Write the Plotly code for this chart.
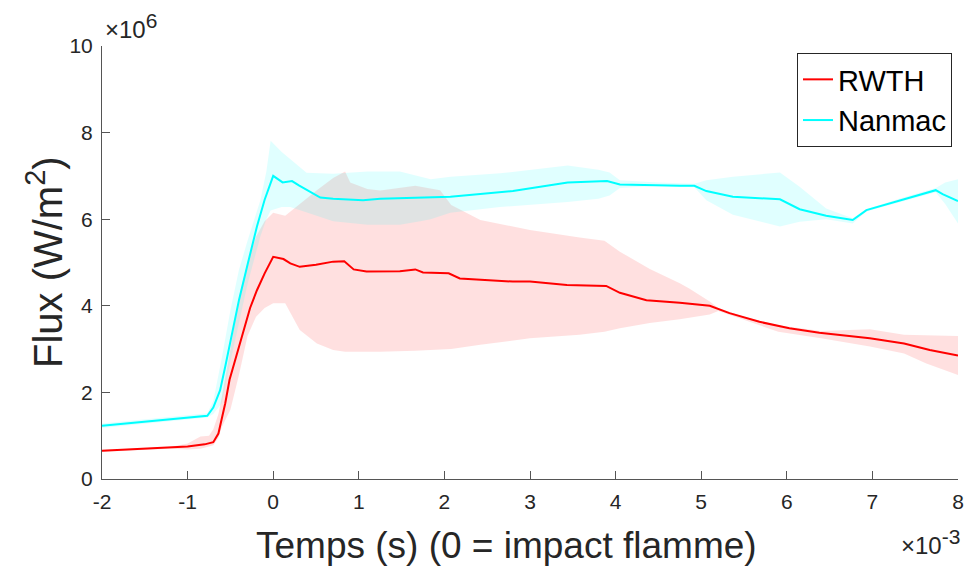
import plotly.graph_objects as go

# ---------------- data (time in 1e-3 s, flux in 1e6 W/m^2) ----------------
rwth_t = [-2.0, -1.0, -0.8, -0.7, -0.64, -0.56, -0.51, -0.41, -0.35, -0.27, -0.19, -0.1, 0.0,
          0.12, 0.2, 0.31, 0.5, 0.7, 0.83, 0.94, 1.09, 1.48, 1.66, 1.75, 2.05, 2.18, 2.8, 3.0,
          3.43, 3.89, 4.05, 4.36, 4.75, 5.1, 5.33, 5.68, 6.03, 6.38, 6.97, 7.37, 7.67, 8.0]
rwth_flux = [0.65, 0.75, 0.80, 0.85, 1.05, 1.75, 2.29, 2.98, 3.44, 3.95, 4.36, 4.75, 5.13,
             5.08, 4.98, 4.90, 4.95, 5.02, 5.03, 4.84, 4.79, 4.80, 4.84, 4.77, 4.75, 4.63, 4.56, 4.56,
             4.48, 4.46, 4.30, 4.13, 4.07, 4.00, 3.83, 3.63, 3.48, 3.38, 3.25, 3.13, 2.98, 2.85]

rwth_band_t = [-2.0, -1.2, -1.0, -0.85, -0.75, -0.7, -0.64, -0.6, -0.5, -0.4, -0.3, -0.2, -0.1,
               0.0, 0.14, 0.22, 0.31, 0.51, 0.7, 0.84, 0.9, 1.1, 1.25, 1.66, 1.95, 2.08, 2.42,
               3.0, 3.58, 3.87, 4.05, 4.4, 4.75, 4.86, 5.1, 5.2, 5.5, 5.9, 6.4, 6.97, 7.37, 7.63, 8.0]
rwth_upper = [0.67, 0.74, 0.82, 0.98, 1.00, 1.15, 1.50, 1.90, 3.00, 4.20, 5.00, 5.60, 5.95,
              6.15, 6.08, 6.21, 6.35, 6.67, 6.95, 7.10, 6.85, 6.70, 6.66, 6.77, 6.67, 6.33, 5.98,
              5.75, 5.58, 5.50, 5.25, 4.85, 4.52, 4.40, 4.10, 3.95, 3.75, 3.55, 3.42, 3.46, 3.33, 3.32, 3.30]
rwth_lower = [0.63, 0.70, 0.68, 0.70, 0.75, 0.78, 0.95, 1.20, 1.60, 2.40, 3.30, 3.75, 3.95,
              4.06, 4.06, 3.78, 3.44, 3.13, 2.98, 2.94, 2.94, 2.94, 2.94, 2.96, 2.98, 3.00, 3.10,
              3.25, 3.33, 3.40, 3.48, 3.60, 3.69, 3.72, 3.80, 3.88, 3.68, 3.40, 3.25, 3.06, 2.90, 2.67, 2.40]

nanmac_t = [-2.0, -1.0, -0.77, -0.7, -0.62, -0.56, -0.48, -0.4, -0.3, -0.19, -0.1, 0.0, 0.11,
            0.22, 0.3, 0.55, 0.7, 1.05, 1.25, 1.63, 2.07, 2.8, 3.44, 3.9, 4.05, 4.75, 4.92, 5.06,
            5.37, 5.92, 6.15, 6.46, 6.77, 6.93, 7.32, 7.74, 7.82, 8.0]
nanmac_flux = [1.23, 1.43, 1.46, 1.65, 2.05, 2.60, 3.37, 4.13, 4.95, 5.83, 6.45, 7.00, 6.85,
               6.88, 6.78, 6.50, 6.47, 6.44, 6.47, 6.50, 6.52, 6.65, 6.85, 6.88, 6.80, 6.77, 6.77, 6.65,
               6.52, 6.46, 6.23, 6.08, 5.98, 6.21, 6.44, 6.67, 6.58, 6.42]

nanmac_band_t = [-2.0, -1.0, -0.77, -0.7, -0.6, -0.5, -0.4, -0.3, -0.15, -0.08, -0.03, 0.1, 0.2,
                 0.39, 0.7, 1.1, 1.48, 1.72, 1.84, 2.07, 2.65, 3.44, 3.8, 3.93, 4.05, 4.5, 4.92,
                 5.06, 5.37, 5.92, 6.15, 6.46, 6.77, 6.93, 7.32, 7.74, 7.85, 8.0]
nanmac_upper = [1.28, 1.48, 1.52, 1.80, 2.80, 3.90, 4.83, 5.50, 6.44, 7.10, 7.81, 7.55, 7.38,
                7.07, 7.05, 7.10, 7.10, 6.98, 6.92, 6.98, 7.06, 7.24, 7.14, 7.08, 6.90, 6.85, 6.82,
                6.90, 6.98, 7.08, 6.75, 6.25, 6.02, 6.23, 6.48, 6.72, 6.85, 6.92]
nanmac_lower = [1.18, 1.38, 1.42, 1.50, 1.75, 2.70, 3.60, 4.50, 5.60, 6.00, 6.20, 6.28, 6.28,
                6.15, 5.95, 5.87, 5.87, 5.95, 6.00, 6.15, 6.28, 6.40, 6.47, 6.55, 6.72, 6.77, 6.74,
                6.44, 6.10, 5.83, 5.94, 6.00, 5.90, 6.18, 6.40, 6.62, 6.35, 5.90]

x_ticks = [-2, -1, 0, 1, 2, 3, 4, 5, 6, 7, 8]
y_ticks = [0, 2, 4, 6, 8, 10]

FONT = "Liberation Sans, Arial, sans-serif"
TXT = "#262626"

fig = go.Figure()

# shaded bands
fig.add_trace(go.Scatter(x=rwth_band_t, y=rwth_upper, mode="lines", line=dict(width=0),
                         showlegend=False, hoverinfo="skip"))
fig.add_trace(go.Scatter(x=rwth_band_t, y=rwth_lower, mode="lines", line=dict(width=0),
                         fill="tonexty", fillcolor="rgba(255,0,0,0.12)",
                         showlegend=False, hoverinfo="skip"))
fig.add_trace(go.Scatter(x=nanmac_band_t, y=nanmac_upper, mode="lines", line=dict(width=0),
                         showlegend=False, hoverinfo="skip"))
fig.add_trace(go.Scatter(x=nanmac_band_t, y=nanmac_lower, mode="lines", line=dict(width=0),
                         fill="tonexty", fillcolor="rgba(0,255,255,0.12)",
                         showlegend=False, hoverinfo="skip"))

# mean lines
fig.add_trace(go.Scatter(x=rwth_t, y=rwth_flux, mode="lines", name="RWTH",
                         line=dict(color="#ff0000", width=2)))
fig.add_trace(go.Scatter(x=nanmac_t, y=nanmac_flux, mode="lines", name="Nanmac",
                         line=dict(color="#00ffff", width=2)))

W, H = 967, 569
L, R, T, B = 102, 9, 46, 90
pw, ph = W - L - R, H - T - B

def px(xs):
    return (xs - L) / pw

def py(ys):
    return (H - B - ys) / ph

fig.update_layout(
    width=W, height=H,
    margin=dict(l=L, r=R, t=T, b=B, autoexpand=False),
    paper_bgcolor="white", plot_bgcolor="white",
    font=dict(family=FONT, color=TXT, size=21),
    showlegend=True,
    legend=dict(x=px(952), y=py(53), xanchor="right", yanchor="top",
                bgcolor="white", bordercolor="#262626", borderwidth=1,
                font=dict(size=29, color="black", family=FONT),
                itemwidth=30, tracegroupgap=0, traceorder="normal"),
    xaxis=dict(range=[-2, 8], tickvals=x_ticks, ticktext=[str(v) for v in x_ticks],
               showgrid=False, zeroline=False, showline=True, linecolor="#555555", linewidth=1,
               ticks="inside", ticklen=8, tickcolor="#555555",
               tickfont=dict(size=21, color=TXT), ticklabelstandoff=4),
    yaxis=dict(range=[0, 10], tickvals=y_ticks, ticktext=[str(v) for v in y_ticks],
               showgrid=False, zeroline=False, showline=True, linecolor="#555555", linewidth=1,
               ticks="inside", ticklen=8, tickcolor="#555555",
               tickfont=dict(size=21, color=TXT), ticklabelstandoff=4),
    annotations=[
        dict(text="Temps (s) (0 = impact flamme)", xref="paper", yref="paper",
             x=px(506), y=py(545), xanchor="center", yanchor="middle", showarrow=False,
             font=dict(size=37, color=TXT, family=FONT)),
        dict(text="Flux (W/m<sup><span style='font-size:29px'>2</span></sup>)",
             xref="paper", yref="paper",
             x=px(44), y=py(262), xanchor="center", yanchor="middle", showarrow=False,
             textangle=-90, font=dict(size=40, color=TXT, family=FONT)),
        dict(text="\u00d710<sup><span style='font-size:21px'>6</span></sup>",
             xref="paper", yref="paper",
             x=px(103), y=py(45), xanchor="left", yanchor="bottom", showarrow=False,
             font=dict(size=24, color=TXT, family=FONT)),
        dict(text="\u00d710<sup><span style='font-size:21px'>-3</span></sup>",
             xref="paper", yref="paper",
             x=px(962), y=py(561), xanchor="right", yanchor="bottom", showarrow=False,
             font=dict(size=24, color=TXT, family=FONT)),
    ],
)

# remove the browser's default 8 px body margin so the figure fills the window exactly
fig.write_html("out.html",
               config={"displayModeBar": False},
               post_script="document.body.style.margin='0';document.body.style.overflow='hidden';")
